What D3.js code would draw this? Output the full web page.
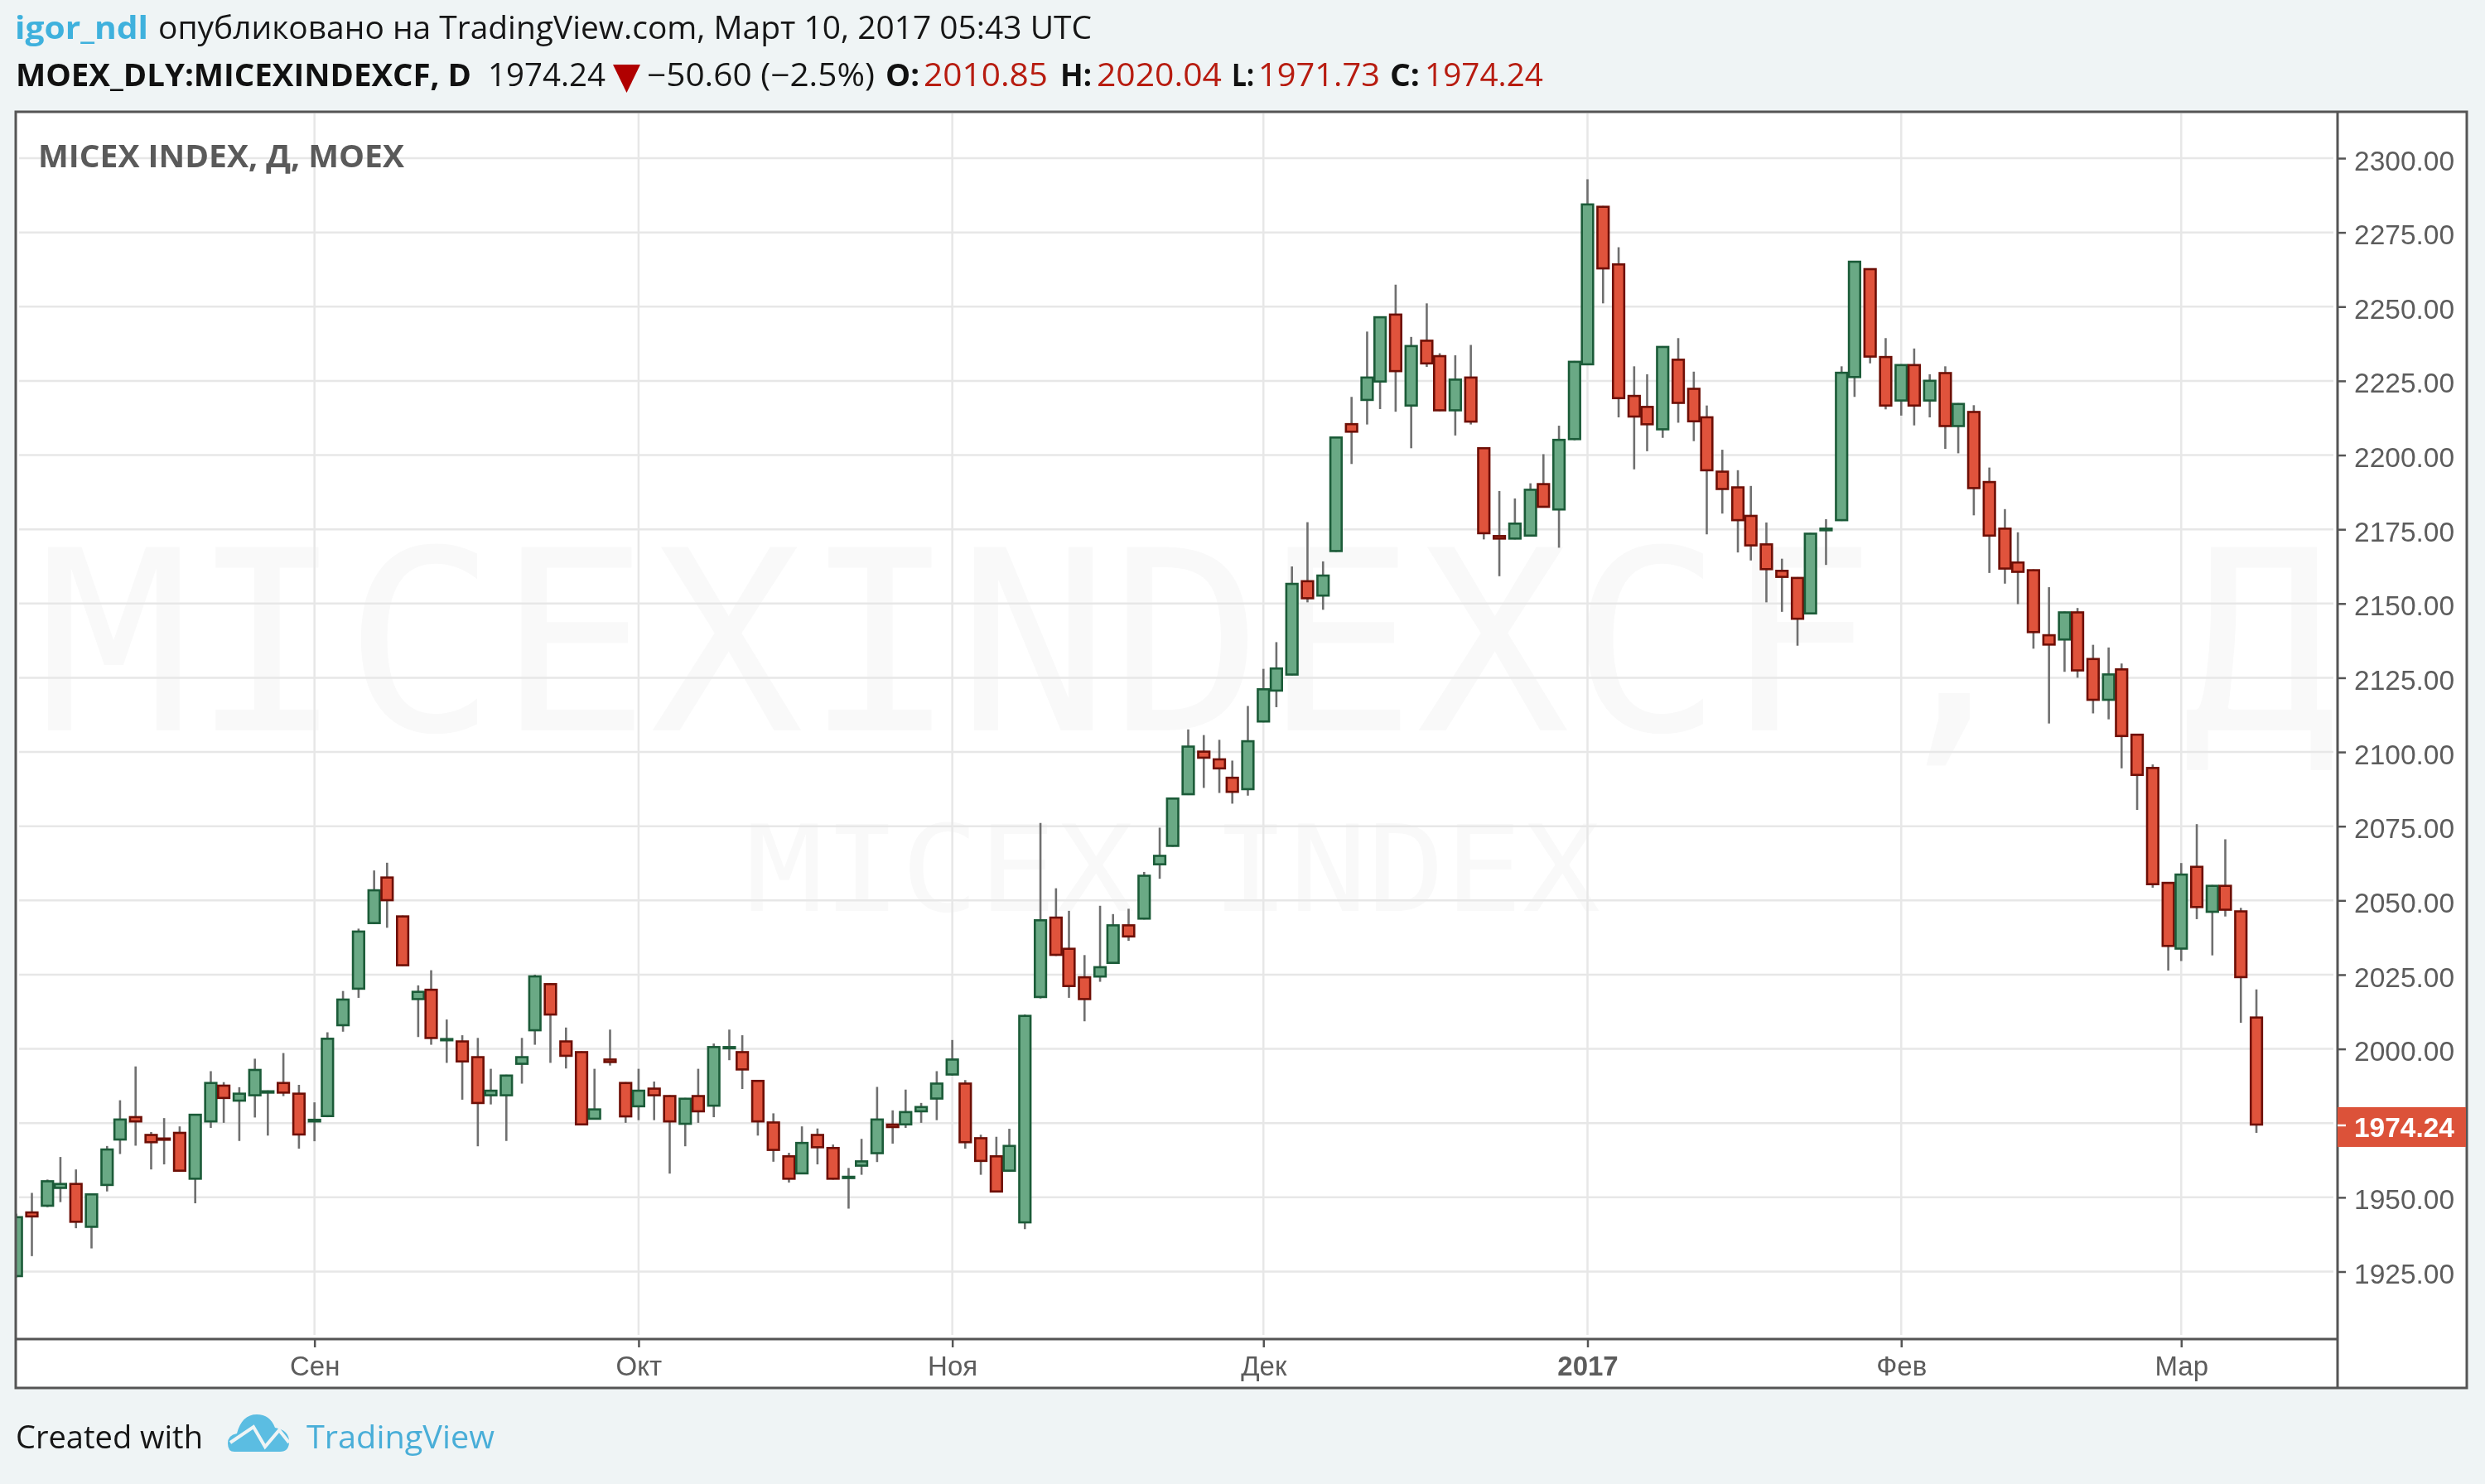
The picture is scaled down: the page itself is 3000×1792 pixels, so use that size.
<!DOCTYPE html>
<html><head><meta charset="utf-8">
<script src="https://cdn.jsdelivr.net/npm/d3@7"></script>
<style>html,body{margin:0;padding:0;background:#eff4f5;overflow:hidden}svg{display:block;filter:blur(0.6px)}</style>
</head><body><svg id="c" width="3000" height="1792"></svg>
<script>
const opens=[1923.2,1945.2,1946.9,1952.9,1954.8,1939.8,1953.9,1969.2,1977.3,1971.3,
1970.1,1972,1956,1975.3,1987.9,1982.3,1984.1,1985,1988.8,1985.2,
1975.3,1977.1,2007.7,2020,2042.1,2058,2044.9,2016.5,2020.2,2003.1,
2002.8,1997.5,1984.1,1984.1,1994.7,2006,2022.1,2002.8,1999.2,1976.2,
1996.7,1988.8,1980.4,1986.9,1984.4,1974.5,1984.4,1980.6,2000,1999.2,
1989.5,1975.5,1964.1,1957.8,1971.3,1966.9,1956.9,1960.4,1964.6,1974.8,
1974.3,1978.7,1983,1991.1,1988.6,1970.2,1964.1,1958.7,1941.3,2017.2,
2044.5,2034,2024.4,2024.1,2028.7,2041.9,2043.6,2061.9,2068.1,2085.5,
2100.4,2097.8,2091.6,2087.2,2110,2120.4,2125.8,2157.8,2152.4,2167.4,
2210.7,2218.3,2224.5,2247.6,2216.4,2238.8,2233.6,2214.8,2226.4,2202.6,
2173,2171.6,2172.6,2190.5,2181.4,2205.1,2230.3,2283.9,2264.5,2220.2,
2216.5,2208.4,2232.4,2222.6,2213,2194.7,2189.4,2179.8,2170.2,2161.3,
2158.9,2146.4,2174.4,2177.8,2226,2262.9,2233.3,2218.1,2230.6,2218.1,
2227.9,2209.5,2214.8,2191.2,2175.5,2164.1,2161.5,2139.6,2137.6,2147.3,
2131.6,2117.3,2128.1,2106.1,2094.9,2056.2,2033.5,2061.6,2045.9,2055.2,2046.6,2010.85];
const highs=[1944.5,1951.5,1956,1963.6,1959.4,1951.3,1967.3,1982.7,1994.1,1972,
1976.7,1973.9,1978.1,1992.5,1988.8,1987.1,1996.7,1986,1998.6,1987.9,
1982,2005.6,2019.5,2040.5,2060.1,2062.7,2044.9,2021.4,2026.5,2009.9,
2004.6,2003.7,1993.3,1991.3,2003.7,2025,2022.1,2007.2,1999.2,1993.3,
2006.5,1988.8,1993.3,1989,1984.4,1983.5,1993.3,2001.8,2006.5,2004.6,
1989.5,1978.3,1965,1973.9,1973.2,1967.8,1959.9,1969.7,1987.2,1979.3,
1986.3,1981.8,1992.5,2003,1989.5,1971.1,1970.4,1973.1,2011.6,2076.1,
2054.1,2046.5,2031.6,2048.2,2045.4,2047.2,2059.6,2074.5,2084.6,2107.6,
2105.7,2104.1,2097.1,2115.5,2128,2137,2162.5,2177.4,2164.2,2206.2,
2219.6,2241.6,2246.7,2257.4,2239.8,2251.1,2234.3,2233.6,2237.1,2202.6,
2187.9,2185.4,2190.5,2200.3,2209.9,2231.7,2292.9,2283.9,2270,2229.9,
2227.2,2236.7,2239.4,2228.1,2216.7,2201.8,2194.9,2189.6,2177.3,2165.1,
2158.9,2173.8,2178.4,2229.9,2265.4,2262.9,2239.4,2230.6,2235.9,2227.2,
2229.9,2217.5,2216.8,2195.8,2181.8,2174,2161.5,2155.5,2147.3,2148.5,
2136.1,2135.2,2129.8,2106.1,2095.8,2056.2,2062.6,2075.7,2055.2,2070.6,2047.5,2020.04];
const lows=[1923,1930.2,1946.7,1948.4,1939.6,1932.8,1952,1964.6,1967.4,1959.4,
1961.1,1958.7,1948,1973.4,1975.1,1969,1976.9,1970.8,1984.1,1966.4,
1968.9,1977,2005.8,2017.2,2042,2040.8,2027.9,2004,2001.4,1995.3,
1982.9,1967.2,1981.3,1969,1988.3,2001.4,1995.3,1993.4,1974.3,1976.2,
1994.4,1975.1,1976,1976,1958,1967.2,1975.1,1977,1996.2,1986.5,
1970.8,1962,1955,1957.8,1961.1,1956,1946.2,1957.6,1961.9,1968.1,
1973.4,1975.1,1976,1991,1966.4,1957.6,1951.7,1958.7,1939.3,2017,
2031.3,2017.2,2009.3,2022.6,2028.7,2036.4,2043.6,2057.3,2068.1,2085.5,
2087.9,2086.2,2082.6,2085.3,2110,2115.1,2125.8,2150.4,2147.9,2167.4,
2197,2210.3,2215.5,2214.6,2202.3,2229.7,2214.8,2206.6,2210.3,2171.6,
2159.2,2171.6,2172.6,2182.3,2168.8,2205,2230.3,2251.1,2212.7,2195.2,
2201.3,2205.8,2210.9,2204.7,2173.3,2180.3,2167.2,2164.5,2150.4,2147.2,
2135.8,2146.4,2163,2177.8,2219.6,2230.9,2215.4,2213.3,2210,2212.7,
2202.1,2200.6,2179.7,2160.3,2156.7,2149.8,2134.8,2109.6,2127,2125,
2113,2111,2094.5,2080.5,2054.3,2026.4,2029.6,2043.7,2031.5,2044.6,2008.8,1971.73];
const closes=[1943.6,1943.3,1955.7,1954.8,1941.5,1951.3,1966.4,1976.5,1975.3,1968.3,
1969.2,1958.7,1978.1,1988.8,1983.2,1985.2,1993.2,1986,1985,1970.9,
1976.4,2003.7,2016.9,2039.8,2053.7,2049.8,2027.9,2019.5,2003.4,2003.6,
1995.5,1981.5,1986.2,1991.3,1997.5,2024.7,2011.3,1997.4,1974.3,1979.9,
1995.3,1977,1986.2,1984.1,1975.3,1983.5,1978.7,2000.9,2000.9,1992.8,
1975.3,1965.7,1956,1968.6,1966.6,1956,1957.2,1962.4,1976.5,1973.4,
1979,1980.7,1988.6,1996.7,1968.3,1962,1951.7,1967.6,2011.4,2043.6,
2031.4,2020.9,2016.5,2027.8,2041.9,2037.6,2058.6,2065.3,2084.6,2102.1,
2097.8,2094.2,2086.3,2103.9,2121.4,2128.4,2156.9,2151.5,2159.7,2206.2,
2207.6,2226.4,2246.7,2228,2237,2230.6,2214.8,2225.7,2211,2173.4,
2171.6,2177.2,2188.6,2182.3,2205.4,2231.7,2284.7,2262.6,2218.9,2212.7,
2210.1,2236.7,2217.3,2211.1,2194.6,2188.3,2177.8,2169.3,2161.3,2158.7,
2144.6,2173.8,2175.5,2228,2265.4,2232.9,2216.4,2230.6,2216.4,2225.3,
2209.5,2217.5,2188.6,2172.6,2161.5,2160.4,2140.1,2135.9,2147.3,2127.2,
2117.3,2126.4,2105.1,2092,2055.2,2034.4,2059,2047.5,2055.2,2046.6,2023.9,1974.24];
const priceTicks=[2300,2275,2250,2225,2200,2175,2150,2125,2100,2075,2050,2025,2000,1975,1950,1925];
const labelledTicks=priceTicks.filter(p=>p!==1975);
const monthBars=[20,42,63,84,106,127,146];
const monthLabels=["Сен","Окт","Ноя","Дек","2017","Фев","Мар"];
const lastPrice=1974.24;

const F='"Liberation Sans",Arial,sans-serif', H='"Open Sans","Noto Sans",sans-serif';
const L=19,T=135,R=2978,B=1676,AX=2822,TX=1617;
const svg=d3.select('#c');
const y=d3.scaleLinear().domain([1925,2300]).range([1535.5,191]);
const src=d3.scaleLinear().domain([0,151]).range([6.25,869.85]);
const Q=3.13;
const px=i=>Q*(Math.round(src(i))+.3);

svg.append('rect').attr('width',3000).attr('height',1792).attr('fill','#eff4f5');
svg.append('rect').attr('x',L).attr('y',T).attr('width',R-L).attr('height',B-T).attr('fill','#fff');

function txt(s,x,yy,o={}){
  const t=svg.append('text').attr('x',x).attr('y',yy).text(s)
    .attr('font-family',o.font||H).attr('font-size',o.size||38).attr('fill',o.fill||'#111')
    .attr('font-weight',o.bold?700:400);
  if(o.w) t.attr('textLength',o.w).attr('lengthAdjust','spacingAndGlyphs');
  return t;
}
// watermarks
txt('MICEXINDEXCF, Д',45,882,{font:'"DejaVu Sans Mono",monospace',size:304,fill:'#f9f9f9',w:2775});
txt('MICEX INDEX',900,1100,{font:'"DejaVu Sans Mono",monospace',size:144,fill:'#f9f9f9',w:1032});

// grid
svg.append('g').selectAll('line').data(priceTicks).join('line')
  .attr('x1',L+4).attr('x2',AX-5).attr('y1',d=>y(d)).attr('y2',d=>y(d))
  .attr('stroke','#e7e7e7').attr('stroke-width',2.5);
svg.append('g').selectAll('line').data(monthBars).join('line')
  .attr('x1',px).attr('x2',px).attr('y1',T+2).attr('y2',1612)
  .attr('stroke','#e7e7e7').attr('stroke-width',2.5);

// candles
svg.append('clipPath').attr('id','plot').append('rect').attr('x',L).attr('y',T).attr('width',AX-L).attr('height',TX-T);
const bars=d3.range(opens.length).map(i=>({i,o:opens[i],h:highs[i],l:lows[i],c:closes[i]}));
const g=svg.append('g').attr('clip-path','url(#plot)');
g.append('g').selectAll('line').data(bars).join('line')
  .attr('x1',d=>px(d.i)).attr('x2',d=>px(d.i)).attr('y1',d=>y(d.h)).attr('y2',d=>y(d.l))
  .attr('stroke','#6f6f6f').attr('stroke-width',2.6);
g.append('g').selectAll('rect').data(bars).join('rect')
  .attr('x',d=>px(d.i)-6.8).attr('width',13.6)
  .attr('y',d=>y(Math.max(d.o,d.c))+1)
  .attr('height',d=>Math.max(1.5,Math.abs(y(d.o)-y(d.c))-2))
  .attr('fill',d=>d.c>=d.o?'#6aa985':'#e0533c')
  .attr('stroke',d=>d.c>=d.o?'#1b5b38':'#6e0f06')
  .attr('stroke-width',2.6);

// axes
const yAxis=d3.axisRight(y).tickValues(labelledTicks).tickFormat(d3.format('.2f')).tickSize(10).tickPadding(10);
const ya=svg.append('g').attr('transform',`translate(${AX},0)`).call(yAxis);
ya.select('.domain').remove();
ya.selectAll('line').attr('stroke','#555').attr('stroke-width',2.5);
ya.selectAll('text').attr('font-family',F).attr('font-size',33.5).attr('fill','#5c5c5c').attr('dy','0.42em');
const xMap=d3.scaleOrdinal().domain(monthBars).range(monthBars.map(px));
const xAxis=d3.axisBottom(xMap).tickValues(monthBars).tickFormat((d,i)=>monthLabels[i]).tickSize(10).tickPadding(11);
const xa=svg.append('g').attr('transform',`translate(0,${TX})`).call(xAxis);
xa.select('.domain').remove();
xa.selectAll('line').attr('stroke','#555').attr('stroke-width',2.5);
xa.selectAll('text').attr('font-family',F).attr('font-size',33).attr('fill','#5c5c5c')
  .attr('font-weight',(d,i)=>monthLabels[i]==='2017'?700:400);

// frame
svg.append('rect').attr('x',L).attr('y',T).attr('width',R-L).attr('height',B-T).attr('fill','none').attr('stroke','#555').attr('stroke-width',3);
svg.append('line').attr('x1',AX).attr('x2',AX).attr('y1',T).attr('y2',B).attr('stroke','#555').attr('stroke-width',3);
svg.append('line').attr('x1',L).attr('x2',AX).attr('y1',TX).attr('y2',TX).attr('stroke','#555').attr('stroke-width',3);

// last price label
const ly=y(lastPrice);
svg.append('rect').attr('x',AX).attr('y',ly-22).attr('width',R-AX-1).attr('height',48).attr('fill','#dc5239');
svg.append('line').attr('x1',AX).attr('x2',AX+10).attr('y1',ly).attr('y2',ly).attr('stroke','#fff').attr('stroke-width',2.5);
txt(d3.format('.2f')(lastPrice),2842,ly+14,{font:F,size:33.5,fill:'#fff',bold:true,w:121});

// header
txt('igor_ndl',18,47,{fill:'#3fb1dd',w:161,bold:true});
txt('опубликовано на TradingView.com, Март 10, 2017 05:43 UTC',191,47,{fill:'#161616',w:1127});
txt('MOEX_DLY:MICEXINDEXCF, D',19,104,{bold:true,w:550});
txt('1974.24',589,104,{fill:'#161616',w:142});
svg.append('path').attr('d','M740 78H773L756.5 112Z').attr('fill','#b00000');
txt('−50.60 (−2.5%)',781,104,{fill:'#161616',w:275});
const red='#b71c10';
[['O:',1069,41,'2010.85',1115,150],['H:',1280,38,'2020.04',1324,151],['L:',1487,27,'1971.73',1519,147],['C:',1678,36,'1974.24',1720,143]]
 .forEach(a=>{txt(a[0],a[1],104,{bold:true,w:a[2]});txt(a[3],a[4],104,{fill:red,w:a[5]});});

txt('MICEX INDEX, Д, MOEX',46,202,{bold:true,size:38,fill:'#5a5a5a',w:442});

// footer
txt('Created with',19,1749,{w:226,fill:'#161616'});
svg.append('path').attr('d','M283 1753Q275 1753 275 1743Q275 1733 286 1731Q292 1708 310 1708Q326 1708 332 1724Q349 1727 349 1741Q349 1753 338 1753Z').attr('fill','#5bbde2');
svg.append('path').attr('d','M278 1742L306 1723L320 1747L337 1727L349 1742').attr('fill','none').attr('stroke','#eff4f5').attr('stroke-width',4);
txt('TradingView',370,1749,{fill:'#49aed8',w:227});
</script></body></html>
